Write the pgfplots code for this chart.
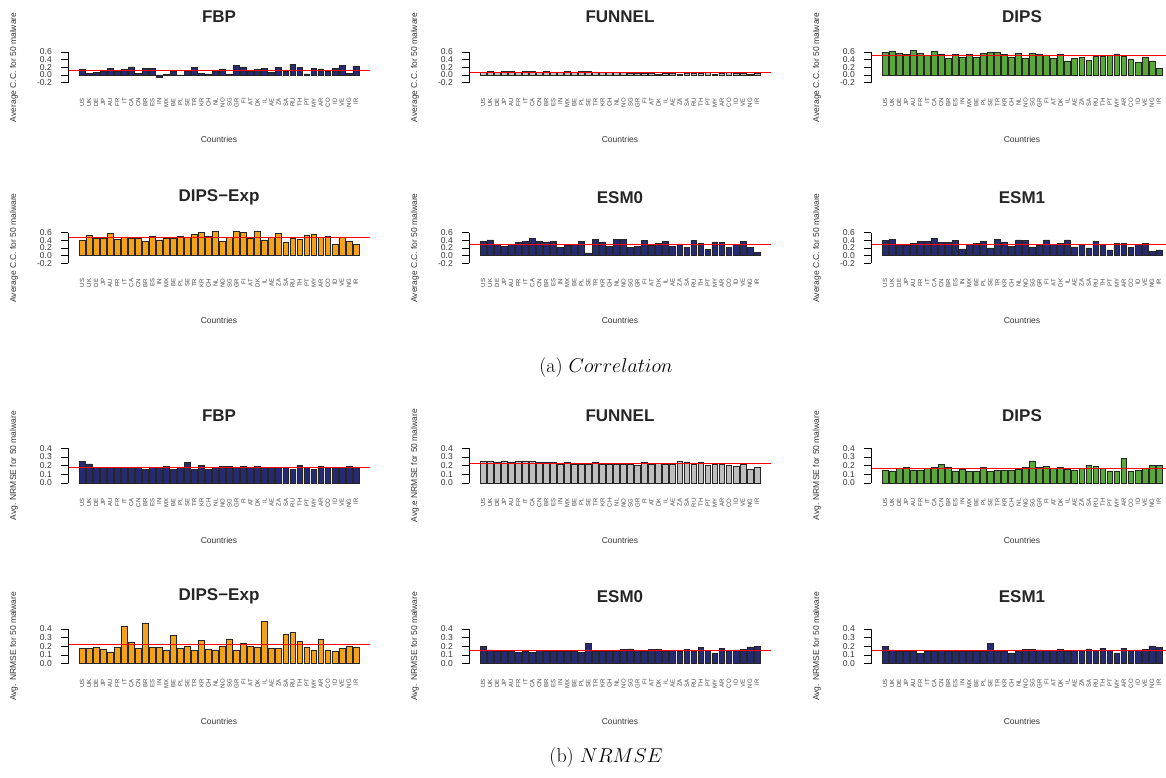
\RequirePackage{fix-cm}
\documentclass[border=0pt]{standalone}
\usepackage{fontspec}
\usepackage{pgfplots}
\usepackage{pgfplotstable}
\pgfplotsset{compat=1.18}
\newfontfamily\arial{Liberation Sans}
\definecolor{navy}{HTML}{262A70}
\definecolor{dgreen}{HTML}{5AA83B}
\definecolor{orng}{HTML}{F5A21B}
\definecolor{gry}{HTML}{BEBEBE}

\pgfplotstableread{
x fbp funnel dips dipsexp esm0 esm1
0 0.15 0.07 0.58 0.41 0.38 0.40
1 0.04 0.10 0.63 0.52 0.41 0.43
2 0.07 0.07 0.56 0.46 0.29 0.30
3 0.09 0.09 0.54 0.46 0.25 0.26
4 0.17 0.09 0.64 0.58 0.29 0.33
5 0.09 0.07 0.57 0.43 0.34 0.37
6 0.14 0.10 0.51 0.49 0.37 0.38
7 0.21 0.10 0.61 0.46 0.45 0.46
8 0.04 0.08 0.55 0.46 0.37 0.35
9 0.17 0.10 0.43 0.37 0.36 0.35
10 0.17 0.08 0.53 0.51 0.37 0.40
11 -0.07 0.08 0.47 0.41 0.21 0.18
12 0.02 0.10 0.53 0.46 0.28 0.29
13 0.10 0.08 0.46 0.46 0.30 0.33
14 -0.02 0.10 0.57 0.50 0.37 0.37
15 0.09 0.09 0.60 0.49 0.07 0.20
16 0.19 0.08 0.58 0.56 0.43 0.43
17 0.05 0.07 0.54 0.60 0.36 0.36
18 0.03 0.06 0.47 0.50 0.24 0.25
19 0.11 0.07 0.56 0.63 0.43 0.41
20 0.16 0.07 0.43 0.38 0.43 0.39
21 0.03 0.05 0.56 0.49 0.21 0.23
22 0.25 0.05 0.55 0.63 0.25 0.26
23 0.21 0.04 0.51 0.61 0.40 0.41
24 0.11 0.04 0.44 0.45 0.26 0.29
25 0.15 0.03 0.55 0.63 0.33 0.33
26 0.17 0.04 0.37 0.41 0.37 0.41
27 0.08 0.04 0.43 0.48 0.24 0.23
28 0.20 0.03 0.46 0.58 0.30 0.29
29 0.09 0.04 0.38 0.34 0.22 0.20
30 0.28 0.04 0.50 0.46 0.40 0.38
31 0.20 0.04 0.50 0.43 0.33 0.30
32 0.03 0.07 0.51 0.53 0.16 0.15
33 0.17 0.03 0.55 0.57 0.36 0.33
34 0.16 0.04 0.49 0.47 0.35 0.33
35 0.11 0.06 0.42 0.50 0.21 0.21
36 0.17 0.04 0.32 0.30 0.29 0.29
37 0.25 0.04 0.47 0.49 0.37 0.32
38 0.05 0.03 0.37 0.38 0.22 0.11
39 0.24 0.04 0.18 0.29 0.09 0.15
}\cctab

\pgfplotstableread{
x fbp funnel dips dipsexp esm0 esm1
0 0.25 0.25 0.15 0.18 0.20 0.20
1 0.22 0.25 0.14 0.18 0.16 0.16
2 0.18 0.24 0.165 0.19 0.14 0.14
3 0.18 0.25 0.18 0.17 0.14 0.14
4 0.18 0.24 0.15 0.135 0.145 0.14
5 0.18 0.25 0.15 0.19 0.13 0.12
6 0.18 0.25 0.17 0.43 0.145 0.14
7 0.18 0.25 0.18 0.25 0.13 0.14
8 0.18 0.24 0.215 0.18 0.15 0.15
9 0.16 0.24 0.18 0.47 0.14 0.14
10 0.18 0.24 0.14 0.19 0.14 0.14
11 0.18 0.22 0.155 0.19 0.14 0.14
12 0.19 0.24 0.13 0.15 0.145 0.145
13 0.16 0.22 0.14 0.33 0.14 0.14
14 0.18 0.22 0.18 0.18 0.13 0.14
15 0.24 0.22 0.13 0.20 0.23 0.23
16 0.16 0.24 0.145 0.15 0.14 0.14
17 0.20 0.22 0.145 0.27 0.145 0.14
18 0.16 0.22 0.145 0.17 0.14 0.125
19 0.18 0.22 0.155 0.155 0.14 0.14
20 0.19 0.22 0.18 0.20 0.165 0.165
21 0.19 0.22 0.255 0.285 0.17 0.165
22 0.18 0.21 0.18 0.16 0.155 0.16
23 0.19 0.24 0.19 0.23 0.145 0.155
24 0.18 0.22 0.165 0.20 0.165 0.155
25 0.19 0.23 0.18 0.195 0.165 0.165
26 0.18 0.22 0.155 0.485 0.14 0.14
27 0.18 0.22 0.15 0.18 0.15 0.155
28 0.18 0.25 0.17 0.18 0.14 0.155
29 0.18 0.24 0.20 0.335 0.165 0.17
30 0.16 0.22 0.19 0.36 0.14 0.155
31 0.20 0.24 0.17 0.26 0.185 0.18
32 0.18 0.21 0.14 0.19 0.15 0.15
33 0.16 0.22 0.14 0.16 0.125 0.125
34 0.19 0.22 0.28 0.285 0.18 0.18
35 0.18 0.20 0.14 0.15 0.155 0.155
36 0.18 0.19 0.145 0.14 0.16 0.16
37 0.18 0.22 0.175 0.18 0.165 0.165
38 0.19 0.16 0.20 0.20 0.195 0.205
39 0.18 0.18 0.20 0.19 0.20 0.19
}\nrtab

\pgfplotsset{
  base/.style={
    scale only axis, width=302pt, anchor=south west,
    xmin=-2.01, xmax=41.01, clip=false,
    axis lines=left, axis line style={draw=none,-},
    xtick={0,...,39},
    xticklabels={US,UK,DE,JP,AU,FR,IT,CA,CN,BR,ES,IN,MX,BE,PL,SE,TR,KR,CH,NL,NO,SG,GR,FI,AT,DK,IL,AE,ZA,SA,RU,TH,PT,MY,AR,CO,ID,VE,NG,IR},
    xtick style={draw=none},
    tick align=outside, major tick length=7pt,
    ytick style={draw=black, line width=0.7pt},
    xticklabel shift=7pt,
    xticklabel style={rotate=90, anchor=east, inner sep=0pt, font=\arial\fontsize{6}{6}\selectfont, text=black!75},
    yticklabel style={anchor=east, inner sep=0pt, xshift=-9pt, font=\arial\fontsize{8.5}{9}\selectfont, text=black!80},
    title style={at={(axis description cs:0.5,1)}, anchor=center, font=\arial\bfseries\fontsize{17}{17}\selectfont, text=black!85},
    xlabel={Countries},
    xlabel style={at={(axis description cs:0.5,0)}, anchor=center, yshift=-56pt, font=\arial\fontsize{8.5}{9}\selectfont, text=black!80},
    ylabel style={at={(axis description cs:-0.179,0.5)}, anchor=center, font=\arial\fontsize{8.5}{9}\selectfont, text=black!80},
  },
  cc/.style={base, height=33.2pt, ymin=-0.232, ymax=0.632,
    ytick={-0.2,0,0.2,0.4,0.6}, yticklabels={-0.2,0.0,0.2,0.4,0.6},
    ylabel={Average C.C. for 50 malware}, title style={yshift=28pt}},
  nr/.style={base, height=37.5pt, ymin=-0.016, ymax=0.416,
    ytick={0,0.1,0.2,0.3,0.4}, yticklabels={0.0,0.1,0.2,0.3,0.4},
    title style={yshift=25pt}},
}

\newcommand{\ccpanel}[6]{%
\begin{axis}[cc, at={(#1pt,#2pt)}, title={#3}]
\addplot[ybar, bar width=0.833, fill=#5, draw=black!85, line width=0.5pt] table[x=x,y=#4] {\cctab};
\addplot[red, line width=1.3pt] coordinates {(-2.01,#6) (41.01,#6)};
\draw[line width=0.7pt] (axis cs:-2.01,-0.2) -- (axis cs:-2.01,0.6);
\end{axis}}

\newcommand{\nrpanel}[7]{%
\begin{axis}[nr, at={(#1pt,#2pt)}, title={#3}, ylabel={#7}]
\addplot[ybar, bar width=0.833, fill=#5, draw=black!85, line width=0.5pt] table[x=x,y=#4] {\nrtab};
\addplot[red, line width=1.3pt] coordinates {(-2.01,#6) (41.01,#6)};
\draw[line width=0.7pt] (axis cs:-2.01,0) -- (axis cs:-2.01,0.4);
\end{axis}}

\begin{document}
\begin{tikzpicture}[x=1pt,y=1pt]
\useasboundingbox (0,0) rectangle (1166,777);
\clip (0,0) rectangle (1166,777);
\ccpanel{68}{693.1}{FBP}{fbp}{navy}{0.12}
\ccpanel{469}{693.1}{FUNNEL}{funnel}{gry}{0.065}
\ccpanel{871}{693.1}{DIPS}{dips}{dgreen}{0.50}
\ccpanel{68}{512.4}{DIPS\textminus Exp}{dipsexp}{orng}{0.48}
\ccpanel{469}{512.4}{ESM0}{esm0}{navy}{0.30}
\ccpanel{871}{512.4}{ESM1}{esm1}{navy}{0.30}
\nrpanel{68}{292.6}{FBP}{fbp}{navy}{0.18}{Avg. NRMSE for 50 malware}
\nrpanel{469}{292.6}{FUNNEL}{funnel}{gry}{0.225}{Avg.e NRMSE for 50 malware}
\nrpanel{871}{292.6}{DIPS}{dips}{dgreen}{0.17}{Avg. NRMSE for 50 malware}
\nrpanel{68}{111.9}{DIPS\textminus Exp}{dipsexp}{orng}{0.225}{Avg. NRMSE for 50 malware}
\nrpanel{469}{111.9}{ESM0}{esm0}{navy}{0.155}{Avg. NRMSE for 50 malware}
\nrpanel{871}{111.9}{ESM1}{esm1}{navy}{0.15}{Avg. NRMSE for 50 malware}
\node[font=\fontsize{20}{24}\selectfont] at (606,409) {(a) $Correlation$};
\node[font=\fontsize{20}{24}\selectfont] at (606,19) {(b) $NRMSE$};
\end{tikzpicture}
\end{document}
